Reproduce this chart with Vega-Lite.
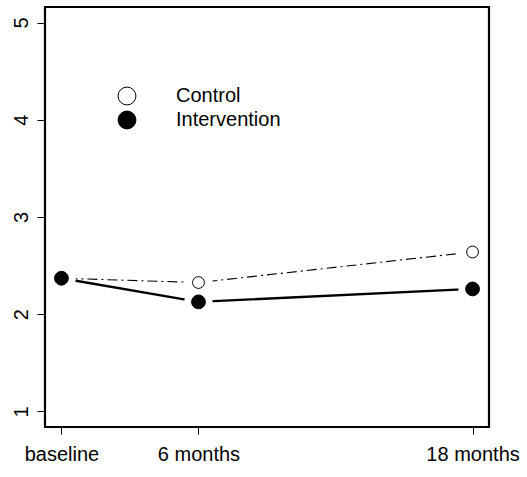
{
  "$schema": "https://vega.github.io/schema/vega-lite/v6.json",
  "width": 444,
  "height": 420,
  "autosize": {"type": "none"},
  "padding": {"left": 45, "top": 7, "right": 38, "bottom": 50},
  "background": "white",
  "config": {
    "view": {"stroke": "black", "strokeWidth": 2.2},
    "font": "Liberation Sans",
    "axis": {"labelFont": "Liberation Sans", "labelFontSize": 20, "labelColor": "black", "tickColor": "black", "grid": false, "domain": false, "title": null}
  },
  "data": {"values": [
    {"group": "Control", "month": 0, "value": 2.37},
    {"group": "Control", "month": 6, "value": 2.326},
    {"group": "Control", "month": 18, "value": 2.64},
    {"group": "Intervention", "month": 0, "value": 2.37},
    {"group": "Intervention", "month": 6, "value": 2.127},
    {"group": "Intervention", "month": 18, "value": 2.26}
  ]},
  "encoding": {
    "x": {"field": "month", "type": "quantitative", "scale": {"domain": [-0.72, 18.72], "nice": false, "zero": false},
      "axis": {"values": [0, 6, 18], "tickSize": 7, "labelPadding": 10, "labelExpr": "datum.value == 0 ? 'baseline' : datum.value + ' months'"}},
    "y": {"field": "value", "type": "quantitative", "scale": {"domain": [0.84, 5.16], "nice": false, "zero": false},
      "axis": {"values": [1, 2, 3, 4, 5], "format": "d", "tickSize": 8, "labelAngle": 270, "labelAlign": "center", "labelBaseline": "alphabetic", "labelPadding": 10}}
  },
  "layer": [
    {
      "transform": [{"filter": "datum.group == 'Control'"}],
      "mark": {"type": "line", "color": "black", "strokeWidth": 1.1, "strokeDash": [2, 4, 10, 4]},
      "encoding": {}
    },
    {
      "transform": [{"filter": "datum.group == 'Intervention'"}],
      "mark": {"type": "line", "color": "black", "strokeWidth": 2.3},
      "encoding": {}
    },
    {
      "mark": {"type": "circle", "color": "white", "size": 800, "opacity": 1}
    },
    {
      "transform": [{"filter": "datum.group == 'Control'"}],
      "mark": {"type": "point", "shape": "circle", "filled": true, "stroke": "black", "strokeWidth": 1, "size": 140, "opacity": 1},
      "encoding": {
        "fill": {"field": "group", "type": "nominal", "scale": {"domain": ["Control", "Intervention"], "range": ["white", "black"]},
          "legend": {"title": null, "orient": "none", "legendX": 72, "legendY": 79, "padding": 0, "symbolSize": 320, "symbolStrokeColor": "black", "symbolStrokeWidth": 1, "symbolType": "circle", "labelFont": "Liberation Sans", "labelFontSize": 20, "labelColor": "black", "labelOffset": 39, "rowPadding": 2}}
      }
    },
    {
      "transform": [{"filter": "datum.group == 'Intervention'"}],
      "mark": {"type": "point", "shape": "circle", "filled": true, "stroke": "black", "strokeWidth": 1, "size": 190, "opacity": 1},
      "encoding": {
        "fill": {"field": "group", "type": "nominal"}
      }
    }
  ]
}
